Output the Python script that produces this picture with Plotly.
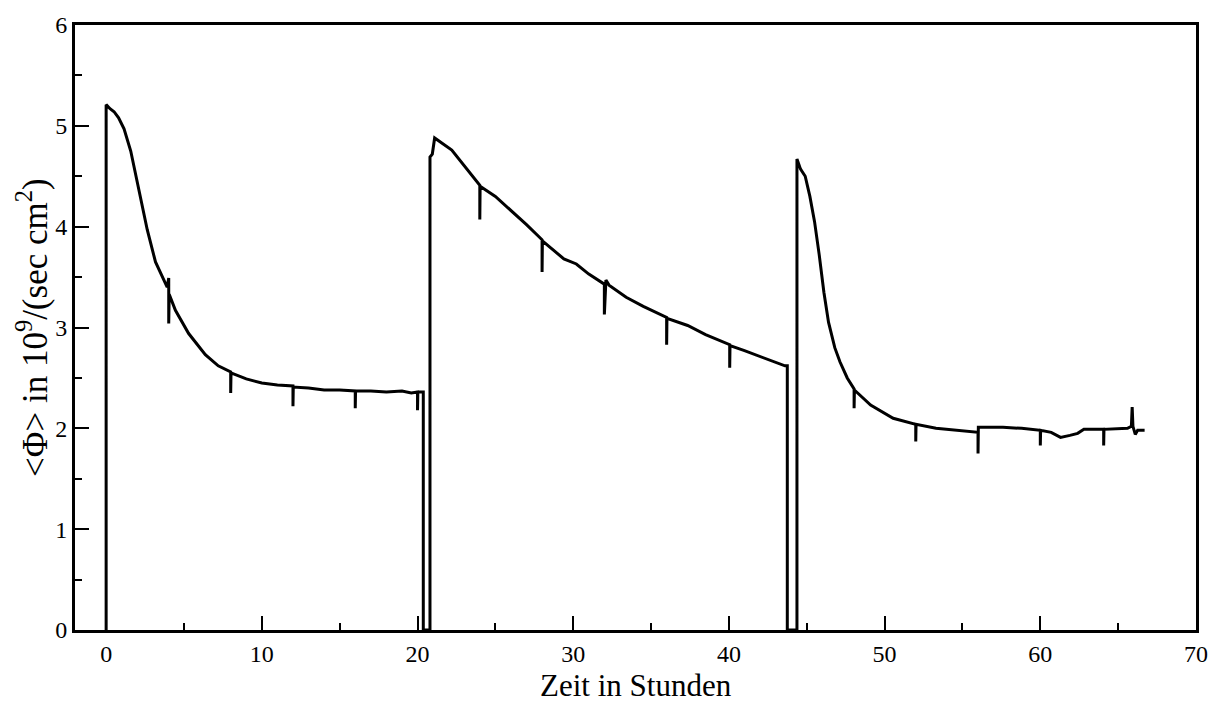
import plotly.graph_objects as go

# Zeit in Stunden (x) und <Phi> in 10^9/(sec cm^2) (y)
zeit = [0, 0, 0.25, 0.51, 0.8, 0.94, 1.15, 1.58, 2.11, 2.64, 3.17, 3.6, 3.92, 4.02, 4.02, 4.05,
        4.45, 5.3, 6.37, 7.2, 8.0, 8.0, 8.02, 9.0, 10.0, 11.0, 12.0, 12.0, 12.02, 13.0, 14.0,
        15.0, 16.0, 16.0, 16.02, 17.0, 18.0, 19.0, 19.6, 20.0, 20.0, 20.02, 20.37, 20.37,
        20.8, 20.8, 20.95, 21.1, 22.2, 23.0, 23.8, 24.0, 24.0, 24.02, 25.0, 25.95, 27.0, 28.0,
        28.0, 28.02, 29.4, 30.2, 31.0, 32.0, 32.0, 32.1, 32.3, 33.4, 34.5, 36.0, 36.0, 36.02,
        37.35, 38.5, 40.05, 40.05, 40.07, 41.0, 42.0, 43.0, 43.6, 43.75, 43.75,
        44.37, 44.37, 44.6, 44.9, 45.2, 45.5, 45.8, 46.1, 46.4, 46.8, 47.13, 47.6, 48.04, 48.04,
        48.06, 49.1, 50.55, 52.0, 52.0, 52.02, 53.3, 54.45, 55.2, 56.0, 56.0, 56.02, 57.6, 58.8,
        60.0, 60.0, 60.02, 60.7, 61.3, 61.9, 62.4, 62.8, 64.07, 64.07, 64.09, 65.6, 65.85, 65.9,
        65.95, 66.1, 66.25, 66.7]
fluss = [0, 5.21, 5.17, 5.14, 5.08, 5.04, 4.97, 4.75, 4.36, 3.97, 3.65, 3.50, 3.40, 3.49, 3.04, 3.33,
         3.17, 2.94, 2.73, 2.62, 2.56, 2.35, 2.55, 2.49, 2.45, 2.43, 2.42, 2.22, 2.41, 2.40, 2.38,
         2.38, 2.37, 2.20, 2.37, 2.37, 2.36, 2.37, 2.35, 2.36, 2.18, 2.36, 2.36, 0,
         0, 4.69, 4.72, 4.88, 4.76, 4.60, 4.44, 4.41, 4.07, 4.40, 4.30, 4.17, 4.02, 3.87,
         3.55, 3.86, 3.68, 3.63, 3.53, 3.43, 3.13, 3.47, 3.42, 3.30, 3.21, 3.10, 2.83, 3.09,
         3.02, 2.93, 2.83, 2.60, 2.82, 2.77, 2.71, 2.65, 2.62, 2.62, 0,
         0, 4.67, 4.57, 4.50, 4.30, 4.05, 3.72, 3.35, 3.05, 2.80, 2.66, 2.50, 2.39, 2.20,
         2.38, 2.23, 2.10, 2.04, 1.87, 2.04, 2.00, 1.98, 1.97, 1.96, 1.75, 2.01, 2.01, 2.00,
         1.98, 1.83, 1.98, 1.96, 1.91, 1.93, 1.95, 1.99, 1.99, 1.83, 1.99, 2.00, 2.02, 2.21,
         2.02, 1.94, 1.98, 1.98]

x_ticks = [0, 10, 20, 30, 40, 50, 60, 70]
y_ticks = [0, 1, 2, 3, 4, 5, 6]
x_title = "Zeit in Stunden"
y_title = "&lt;Φ&gt; in 10<sup>9</sup>/(sec cm<sup>2</sup>)"

FONT = "Liberation Serif, Times New Roman, serif"

fig = go.Figure()
fig.add_trace(go.Scatter(x=zeit, y=fluss, mode="lines",
                         line=dict(color="black", width=3), showlegend=False))

axis_common = dict(showline=True, linewidth=3, linecolor="black", mirror=True,
                   ticks="inside", ticklen=14, tickwidth=1.5, tickcolor="black",
                   showgrid=False, zeroline=False,
                   tickfont=dict(family=FONT, size=24, color="black"))

fig.update_xaxes(range=[-2, 70], tickvals=x_ticks,
                 minor=dict(dtick=5, ticks="inside", ticklen=7, tickwidth=1.5, tickcolor="black", showgrid=False),
                 **axis_common)
fig.update_yaxes(range=[0, 6], tickvals=y_ticks,
                 minor=dict(dtick=0.5, ticks="inside", ticklen=7, tickwidth=1.5, tickcolor="black", showgrid=False),
                 **axis_common)

fig.add_annotation(text=x_title, xref="paper", yref="paper", x=0.5, y=-0.1215,
                   xanchor="center", yanchor="bottom", showarrow=False, borderpad=0,
                   font=dict(family=FONT, size=31, color="black"))
fig.add_annotation(text=y_title, xref="paper", yref="paper", x=-0.038, y=0.5,
                   xanchor="center", yanchor="middle", textangle=-90, showarrow=False,
                   font=dict(family=FONT, size=35, color="black"))

fig.update_layout(width=1220, height=702, margin=dict(l=75, r=17, t=21, b=72),
                  plot_bgcolor="white", paper_bgcolor="white")

fig.write_html("out.html")
